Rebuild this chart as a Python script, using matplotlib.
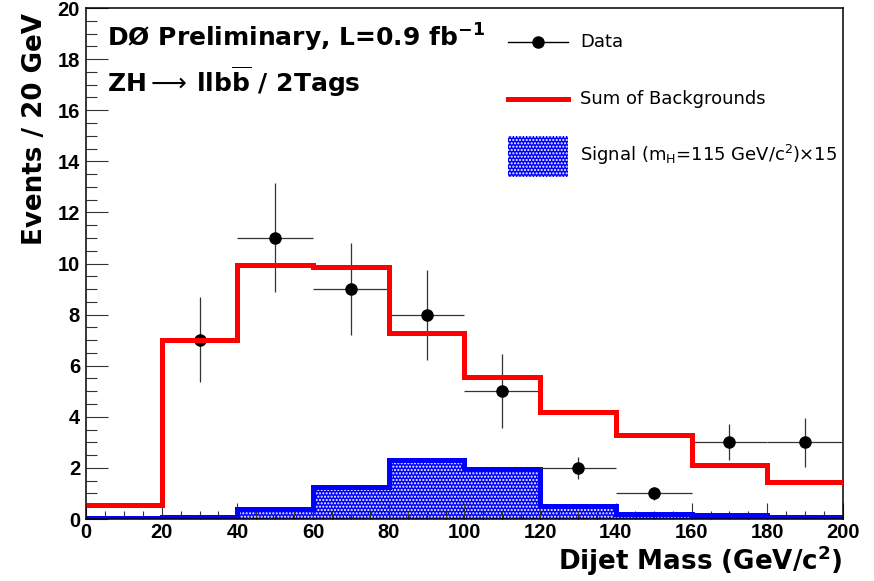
import numpy as np
import matplotlib
matplotlib.use("Agg")
import matplotlib.pyplot as plt
from matplotlib.lines import Line2D
from matplotlib.patches import Patch
from matplotlib.legend_handler import HandlerLine2D

plt.rcParams["font.family"] = ["DejaVu Sans"]
plt.rcParams["mathtext.fontset"] = "custom"
plt.rcParams["mathtext.rm"] = "DejaVu Sans"
plt.rcParams["mathtext.bf"] = "DejaVu Sans:bold"
plt.rcParams["mathtext.default"] = "rm"
plt.rcParams["hatch.linewidth"] = 1.0

# Dijet mass binning (GeV/c^2)
bin_edges = [0, 20, 40, 60, 80, 100, 120, 140, 160, 180, 200]

# Observed events (bins with entries only)
data_x = [30, 50, 70, 90, 110, 130, 150, 170, 190]
data_y = [7, 11, 9, 8, 5, 2, 1, 3, 3]
data_err_lo = [1.65, 2.13, 1.81, 1.77, 1.43, 0.45, 0.26, 0.70, 0.95]
data_err_hi = [1.70, 2.15, 1.80, 1.75, 1.44, 0.42, 0.25, 0.71, 0.96]

# Expected background sum per bin
background = [0.55, 7.0, 9.94, 9.87, 7.27, 5.57, 4.17, 3.29, 2.11, 1.46]

# Signal expectation, m_H = 115 GeV/c^2, scaled x15
signal = [0.03, 0.09, 0.38, 1.24, 2.31, 1.95, 0.51, 0.18, 0.14, 0.09]


class CenteredLineHandler(HandlerLine2D):
    """Line handler that sits in the vertical middle of a tall legend row."""

    def create_artists(self, legend, orig_handle, xdescent, ydescent, width,
                       height, fontsize, trans):
        return super().create_artists(legend, orig_handle, xdescent, ydescent,
                                      width, height - ydescent, fontsize, trans)


fig = plt.figure(figsize=(8.74, 5.81), dpi=100)
ax = fig.add_axes([0.0984, 0.1067, 0.8661, 0.8795])

# Signal: hatched fill plus solid outline
ax.stairs(signal, bin_edges, fill=True, facecolor="#0000ff", edgecolor="white",
          hatch=".....", linewidth=0, zorder=1)
ax.stairs(signal, bin_edges, baseline=None, color="#0000ff", linewidth=3.6, zorder=2)

# Data with error bars
ax.errorbar(data_x, data_y, xerr=10, yerr=[data_err_lo, data_err_hi], fmt="o",
            color="black", ecolor="#333333", elinewidth=0.9, markersize=8,
            capsize=0, zorder=3)

# Background sum
ax.stairs(background, bin_edges, baseline=None, color="#ff0000", linewidth=3.6, zorder=4)

ax.set_xlim(0, 200)
ax.set_ylim(0, 20)
ax.set_xticks(np.arange(0, 201, 20))
ax.set_xticks(np.arange(0, 201, 5), minor=True)
ax.set_yticks(np.arange(0, 21, 2))
ax.set_yticks(np.arange(0, 20.01, 0.5), minor=True)

ax.tick_params(axis="both", which="both", direction="in", top=False, right=False,
               width=0.8, color="#333333")
ax.tick_params(axis="y", which="major", length=15.8, pad=4.3)
ax.tick_params(axis="y", which="minor", length=7.9)
ax.tick_params(axis="x", which="major", length=11.7, pad=3)
ax.tick_params(axis="x", which="minor", length=5.8)
for lab in ax.get_xticklabels() + ax.get_yticklabels():
    lab.set_family(["Liberation Sans", "DejaVu Sans"])
    lab.set_fontsize(14.5)
    lab.set_fontweight("bold")
for sp in ax.spines.values():
    sp.set_linewidth(1.1)

ax.set_xlabel(r"Dijet Mass (GeV/c$^{\mathbf{2}}$)", loc="right", fontsize=18.8,
              fontweight="bold")
ax.xaxis.set_label_coords(1.0, -0.0998)
ax.xaxis.label.set_verticalalignment("baseline")
ax.set_ylabel("Events / 20 GeV", loc="top", fontsize=18.8, fontweight="bold")
ax.yaxis.set_label_coords(-0.0581, 0.990)
ax.yaxis.label.set_verticalalignment("baseline")

ax.text(0.0275, 0.9237, r"DØ Preliminary, L=0.9 fb$^{\mathbf{-1}}$", transform=ax.transAxes,
        fontsize=18, fontweight="bold", ha="left", va="baseline")
ax.text(0.0275, 0.8356, r"ZH$\longrightarrow\!$ llb$\overline{\mathbf{b}}$ / 2Tags",
        transform=ax.transAxes, fontsize=18, fontweight="bold", ha="left", va="baseline")

handles = [
    Line2D([], [], color="black", marker="o", markersize=8, linewidth=1),
    Line2D([], [], color="#ff0000", linewidth=3.6),
    Patch(facecolor="#0000ff", edgecolor="white", hatch=".....", linewidth=0),
]
labels = ["Data", "Sum of Backgrounds",
          r"Signal (m$_{\mathrm{H}}$=115 GeV/c$^{2}$)×15"]
ax.legend(handles, labels, loc="upper left", bbox_to_anchor=(0.5575, 0.9736),
          frameon=False, fontsize=13.0, handlelength=3.32, handleheight=3.12,
          labelspacing=0.886, handletextpad=0.66, borderpad=0, borderaxespad=0,
          handler_map={Line2D: CenteredLineHandler()})

fig.savefig("out.png", dpi=100)
